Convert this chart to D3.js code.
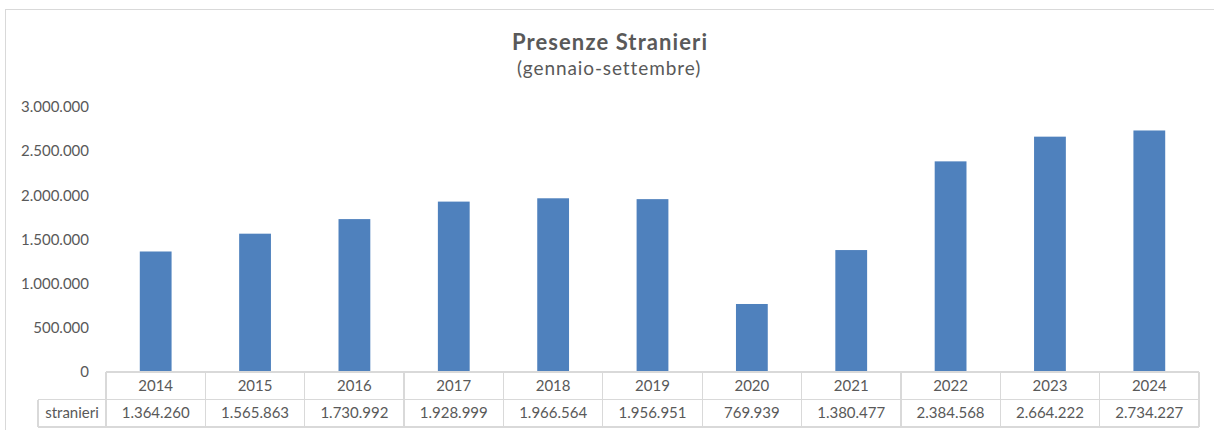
<!DOCTYPE html>
<html>
<head>
<meta charset="utf-8">
<script src="https://cdn.jsdelivr.net/npm/d3@7"></script>
<style>
  body { margin: 0; background: #fff; }
  svg { display: block; font-family: Lato, "Liberation Sans", sans-serif; }
</style>
</head>
<body>
<svg id="chart"></svg>
<script>
const width = 1214;
const height = 430;

// data
const years = ["2014", "2015", "2016", "2017", "2018", "2019", "2020", "2021", "2022", "2023", "2024"];
const stranieri = [1364260, 1565863, 1730992, 1928999, 1966564, 1956951, 769939, 1380477, 2384568, 2664222, 2734227];
const yTicks = [0, 500000, 1000000, 1500000, 2000000, 2500000, 3000000];
const seriesName = "stranieri";

const it = d3.formatLocale({ decimal: ",", thousands: ".", grouping: [3], currency: ["€", ""] });
const fmt = it.format(",d");

const textColor = "#595959";
const gridColor = "#d9d9d9";

const svg = d3.select("#chart")
    .attr("width", width)
    .attr("height", height);

// chart frame (right/bottom edges fall outside the picture)
svg.append("rect")
    .attr("x", 5.5).attr("y", 9.5)
    .attr("width", 1220).attr("height", 440)
    .attr("fill", "none")
    .attr("stroke", gridColor);

// title
svg.append("text")
    .attr("x", 610).attr("y", 50)
    .attr("text-anchor", "middle")
    .attr("fill", textColor)
    .style("font-size", "22px")
    .style("font-weight", "bold")
    .style("letter-spacing", "1.1px")
    .text("Presenze Stranieri");

svg.append("text")
    .attr("x", 609).attr("y", 75)
    .attr("text-anchor", "middle")
    .attr("fill", textColor)
    .style("font-size", "19px")
    .style("letter-spacing", "0.9px")
    .text("(gennaio-settembre)");

// scales
const left = 106, right = 1199;
const x = d3.scaleBand().domain(years).range([left, right]).paddingInner(0.68).paddingOuter(0.34);
const y = d3.scaleLinear().domain([0, 3000000]).range([372, 107]);

// y axis
const yAxis = svg.append("g")
    .attr("transform", "translate(92,0)")
    .call(d3.axisLeft(y).tickValues(yTicks).tickSize(0).tickPadding(3).tickFormat(fmt));
yAxis.select(".domain").remove();
yAxis.selectAll("text")
    .attr("fill", textColor)
    .style("font-size", "15px")
    .style("font-family", "Lato, 'Liberation Sans', sans-serif");

// bars
svg.append("g").selectAll("rect")
    .data(stranieri)
    .join("rect")
    .attr("x", (d, i) => x(years[i]))
    .attr("y", d => y(d))
    .attr("width", x.bandwidth())
    .attr("height", d => y(0) - y(d))
    .attr("fill", "#4f81bd");

// data table
const cols = d3.scaleBand().domain(years).range([left, right]);
const row1 = 372, row2 = 399.5, row3 = 427;
const labelLeft = 38;

const table = svg.append("g")
    .attr("stroke", gridColor)
    .attr("stroke-width", 1.3)
    .attr("shape-rendering", "crispEdges");

table.append("line").attr("x1", left).attr("x2", right).attr("y1", row1).attr("y2", row1);
table.append("line").attr("x1", labelLeft).attr("x2", right).attr("y1", row2).attr("y2", row2);
table.append("line").attr("x1", labelLeft).attr("x2", right).attr("y1", row3).attr("y2", row3);
table.append("line").attr("x1", labelLeft).attr("x2", labelLeft).attr("y1", row2).attr("y2", row3);

table.selectAll("line.col")
    .data(years.concat(["end"]))
    .join("line")
    .attr("class", "col")
    .attr("x1", (d, i) => i < years.length ? cols(d) : right)
    .attr("x2", (d, i) => i < years.length ? cols(d) : right)
    .attr("y1", row1).attr("y2", row3);

svg.append("g").selectAll("text")
    .data(years)
    .join("text")
    .attr("x", d => cols(d) + cols.bandwidth() / 2)
    .attr("y", 391)
    .attr("text-anchor", "middle")
    .attr("fill", textColor)
    .style("font-size", "15px")
    .text(d => d);

svg.append("g").selectAll("text")
    .data(stranieri)
    .join("text")
    .attr("x", (d, i) => cols(years[i]) + cols.bandwidth() / 2)
    .attr("y", 418)
    .attr("text-anchor", "middle")
    .attr("fill", textColor)
    .style("font-size", "15px")
    .text(d => fmt(d));

svg.append("text")
    .attr("x", (labelLeft + left) / 2)
    .attr("y", 418)
    .attr("text-anchor", "middle")
    .attr("fill", textColor)
    .style("font-size", "15px")
    .text(seriesName);
</script>
</body>
</html>
